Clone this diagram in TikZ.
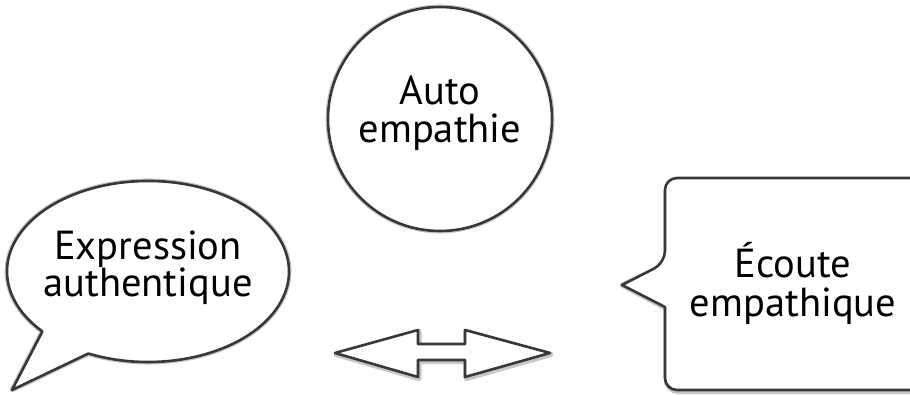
\documentclass[tikz,border=0pt]{standalone}
\usepackage{fontspec}
\setmainfont{PT Sans}
\begin{document}
\begin{tikzpicture}[x=1pt,y=1pt,
  outline/.style={draw=black!78,line width=2.6pt,fill=white,line join=round},
  softshadow/.style={draw=black!22,line width=5pt,line join=round,shift={(1.2,-1.6)}},
  lbl/.style={anchor=base,inner sep=0pt,font=\fontsize{40.5}{40}\selectfont,text=black}]
  \clip (0,0) rectangle (910,395);
  \fill[white] (0,0) rectangle (910,395);

  % key points of the shapes
  \coordinate (bubc) at (148,123.5);
  \coordinate (bubtip) at (12,5);
  \coordinate (circc) at (440,276);
  \coordinate (calltip) at (622,110);

  % speech bubble with its tail
  \foreach \st in {softshadow,outline}{
    \path[\st] (bubc) ++(245:141 and 90.5)
      arc[start angle=245,end angle=581.5,x radius=141,y radius=90.5]
      -- (bubtip) -- cycle;
  }

  % thought circle
  \foreach \st in {softshadow,outline}{
    \path[\st] (circc) circle[radius=112];
  }

  % callout box pointing left
  \foreach \st in {softshadow,outline}{
    \path[\st,rounded corners=12pt] (930,217) -- (665,217) -- (665,132)
      [sharp corners] -- (calltip) -- (665,88)
      [rounded corners=12pt] -- (665,5) -- (930,5) -- cycle;
  }

  % two-headed arrow
  \foreach \st in {softshadow,outline}{
    \path[\st] (335,42) -- (418,65) -- (418,51) -- (465,51) -- (465,65)
      -- (550,42) -- (465,18) -- (465,35) -- (418,35) -- (418,18) -- cycle;
  }

  % labels
  \node[lbl] (expr1) at (148,135) {Expression};
  \node[lbl] (expr2) at (148,98) {authentique};
  \node[lbl] (auto1) at (440,290) {Auto};
  \node[lbl] (auto2) at (440,252) {empathie};
  \node[lbl] (ecou1) at (793,117) {Écoute};
  \node[lbl] (ecou2) at (793,78) {empathique};
\end{tikzpicture}
\end{document}
